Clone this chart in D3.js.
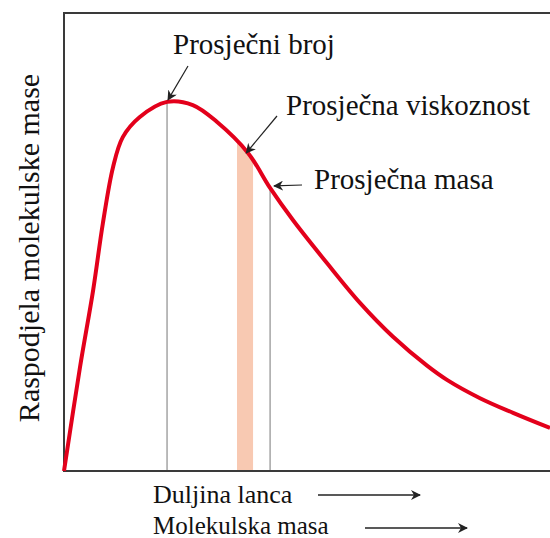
<!DOCTYPE html>
<html>
<head>
<meta charset="utf-8">
<script src="https://cdn.jsdelivr.net/npm/d3@7"></script>
<style>
  body { margin: 0; }
  svg text { font-family: 'Liberation Serif', Tinos, 'Times New Roman', Times, FreeSerif, serif !important; }
</style>
</head>
<body>
<svg width="550" height="538"></svg>
<script>
// molecular weight distribution (arbitrary units)
const massX = [0, 3.3, 6.0, 8.0, 10.1, 12.1, 15.6, 21.2, 26.5, 31.5, 37.9, 42.4, 47.1, 54.1, 60.9, 67.7, 74.7, 78.8, 85.6, 92.4, 100];
const distY = [0, 22.7, 39.5, 54.1, 66.4, 72.9, 77.3, 80.6, 79.9, 76.2, 69.4, 61.8, 54.8, 45.4, 36.7, 29.3, 23.0, 19.9, 15.9, 12.7, 9.4];

const averageNames = ["Prosječni broj", "Prosječna viskoznost", "Prosječna masa"];
const averageX = [21.2, 37.3, 42.4];
const averageY = [80.6, 69.0, 61.8];
const viscosityBand = [35.6, 38.9];

const axisLabels = ["Raspodjela molekulske mase", "Duljina lanca", "Molekulska masa"];

const fontStack = "'Liberation Serif', Tinos, 'Times New Roman', Times, FreeSerif, serif";

const svg = d3.select("svg");
const margin = { left: 64, top: 13, right: 0, bottom: 67 };
const width = +svg.attr("width");
const height = +svg.attr("height");

const x = d3.scaleLinear().domain([0, 100]).range([margin.left, width - margin.right]);
const y = d3.scaleLinear().domain([0, 100]).range([height - margin.bottom, margin.top]);

const points = massX.map((m, i) => ({ x: m, y: distY[i] }));

const curve = d3.curveCatmullRom.alpha(0.5);

const area = d3.area()
  .x(d => x(d.x))
  .y0(y(0))
  .y1(d => y(d.y))
  .curve(curve);

const line = d3.line()
  .x(d => x(d.x))
  .y(d => y(d.y))
  .curve(curve);

// labels first, so that nothing else in the svg comes before them
function label(txt, size) {
  return svg.append("text")
    .attr("font-family", fontStack)
    .style("font-family", fontStack)
    .attr("font-size", size)
    .attr("fill", "#111")
    .text(txt);
}

// annotation labels: text position and arrow start; the arrow ends on the curve
const notes = [
  { tx: 173, ty: 54, ax: 188, ay: 66, dx: 1 },
  { tx: 286, ty: 115, ax: 277, ay: 116, dx: 1 },
  { tx: 314, ty: 189, ax: 302, ay: 185, dx: 4 }
];
notes.forEach((n, i) => {
  label(averageNames[i], 29).attr("x", n.tx).attr("y", n.ty);
});

label(axisLabels[0], 30)
  .attr("transform", "translate(39,248) rotate(-90)")
  .attr("text-anchor", "middle");

const xl = [
  { ty: 503, size: 26, a0: 318, a1: 420, ay: 495 },
  { ty: 534, size: 25, a0: 365, a1: 467, ay: 528 }
];
xl.forEach((d, i) => {
  label(axisLabels[i + 1], d.size).attr("x", 153).attr("y", d.ty);
});

const defs = svg.append("defs");

defs.append("clipPath")
  .attr("id", "under")
  .append("path")
  .attr("d", area(points));

// arrow heads
defs.append("marker")
  .attr("id", "head")
  .attr("viewBox", "0 0 10 10")
  .attr("refX", 9)
  .attr("refY", 5)
  .attr("markerWidth", 10)
  .attr("markerHeight", 10)
  .attr("markerUnits", "userSpaceOnUse")
  .attr("orient", "auto")
  .append("path")
  .attr("d", "M0,0L10,5L0,10L3,5Z")
  .attr("fill", "#222");

const under = svg.append("g").attr("clip-path", "url(#under)");

// viscosity average band
under.append("rect")
  .attr("x", x(viscosityBand[0]))
  .attr("width", x(viscosityBand[1]) - x(viscosityBand[0]))
  .attr("y", y(100))
  .attr("height", y(0) - y(100))
  .attr("fill", "#f8c9b2");

// number and weight average drop lines
under.selectAll(".drop")
  .data([averageX[0], averageX[2]])
  .enter()
  .append("line")
  .attr("x1", d => x(d))
  .attr("x2", d => x(d))
  .attr("y1", y(0))
  .attr("y2", y(100))
  .attr("stroke", "#777")
  .attr("stroke-width", 1);

// frame
svg.append("path")
  .attr("d", `M${x(100)},${y(100)}H${x(0)}V${y(0)}H${x(100)}`)
  .attr("fill", "none")
  .attr("stroke", "#3a3a3a")
  .attr("stroke-width", 2);

svg.append("path")
  .attr("d", line(points))
  .attr("fill", "none")
  .attr("stroke", "#e3001b")
  .attr("stroke-width", 4)
  .attr("stroke-linejoin", "round");

notes.forEach((n, i) => {
  svg.append("line")
    .attr("x1", n.ax)
    .attr("y1", n.ay)
    .attr("x2", x(averageX[i]) + n.dx)
    .attr("y2", y(averageY[i]) - 2)
    .attr("stroke", "#222")
    .attr("stroke-width", 1.2)
    .attr("marker-end", "url(#head)");
});

xl.forEach(d => {
  svg.append("line")
    .attr("x1", d.a0)
    .attr("x2", d.a1)
    .attr("y1", d.ay)
    .attr("y2", d.ay)
    .attr("stroke", "#222")
    .attr("stroke-width", 1.5)
    .attr("marker-end", "url(#head)");
});
</script>
</body>
</html>
